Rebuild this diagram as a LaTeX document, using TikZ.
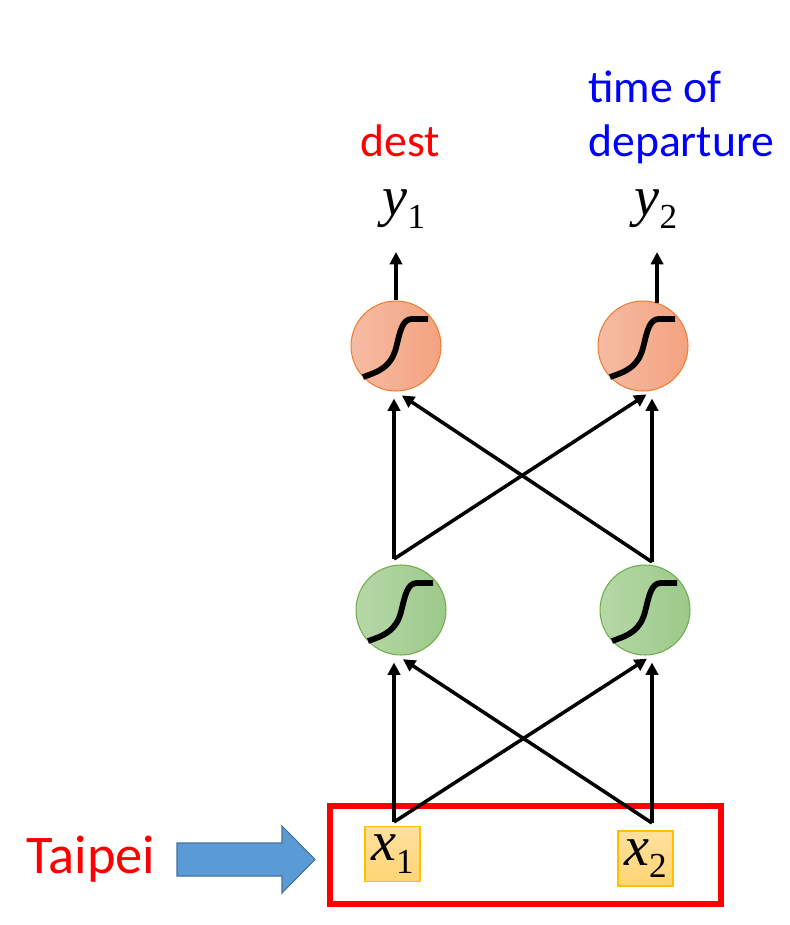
\documentclass[tikz,border=0pt]{standalone}
\usepackage{fontspec}
\newfontfamily\calfont{Carlito}
\newfontfamily\timesfont{Liberation Serif}
\usetikzlibrary{arrows.meta}

\definecolor{outedge}{HTML}{ED7D31}
\definecolor{outleft}{HTML}{F5BCA4}
\definecolor{outright}{HTML}{F4A27F}
\definecolor{hidedge}{HTML}{70AD47}
\definecolor{hidleft}{HTML}{B6D8A8}
\definecolor{hidright}{HTML}{9CC98A}
\definecolor{boxedge}{HTML}{FFC000}
\definecolor{boxtop}{HTML}{FFE09E}
\definecolor{boxbottom}{HTML}{FFD574}
\definecolor{arrowfill}{HTML}{5B9BD5}
\definecolor{arrowedge}{HTML}{41719C}

\newcommand{\varsub}[2]{{\itshape #1}\raisebox{-7pt}{\fontsize{20}{24}\selectfont #2}}

\tikzset{
    sigmoid/.pic={
        \draw[line width=3.3pt] (-33,31)
            .. controls (-15,25) and (-5,20) .. (0,2)
            .. controls (4,-14) and (6,-27) .. (16,-27)
            -- (32,-27);
    }
}

\begin{document}
\begin{tikzpicture}[x=0.02cm,y=-0.02cm,
        neuron/.style={circle,minimum size=1.8cm,inner sep=0pt,line width=0.6pt},
        outnode/.style={neuron,draw=outedge,left color=outleft,right color=outright},
        hidnode/.style={neuron,draw=hidedge,left color=hidleft,right color=hidright},
        inbox/.style={draw=boxedge,line width=0.6pt,top color=boxtop,bottom color=boxbottom,
            minimum size=1.1cm,inner sep=0pt},
        conn/.style={line width=2pt,shorten >=4pt,-{Triangle[length=7pt,width=7pt]}},
        mathlbl/.style={font=\timesfont\fontsize{32}{36}\selectfont},
        word/.style={font=\calfont\fontsize{26}{31.3}\selectfont,inner sep=0pt}
    ]
    \useasboundingbox (0,0) rectangle (789,925);

    \node[outnode] (o1) at (396,346) {};
    \node[outnode] (o2) at (643,346) {};
    \node[hidnode] (h1) at (401,610) {};
    \node[hidnode] (h2) at (645,610) {};
    \pic at (o1) {sigmoid};
    \pic at (o2) {sigmoid};
    \pic at (h1) {sigmoid};
    \pic at (h2) {sigmoid};

    \node[draw=red,line width=3.4pt,minimum width=7.82cm,minimum height=1.96cm] (input) at (525.5,855) {};
    \node[inbox,mathlbl] (x1) at (392.5,854) {\varsub{x}{1}};
    \node[inbox,mathlbl] (x2) at (645.5,858.5) {\varsub{x}{2}};

    \node[mathlbl,anchor=base] (y1) at (404,216) {\varsub{y}{1}};
    \node[mathlbl,anchor=base] (y2) at (656,216) {\varsub{y}{2}};
    \node[word,text=red,anchor=base] (dest) at (400,157) {dest};
    \node[word,text=blue,anchor=base west,align=left] (tod) at (588,157) {time of\\departure};

    \coordinate (in1) at (394,822);
    \coordinate (in2) at (652,823);
    \coordinate (j1) at (394,559);
    \coordinate (j2) at (652,562);

    \draw[conn] (in1) -- (in1 |- h1.south);
    \draw[conn] (in2) -- (h1.-95);
    \draw[conn] (in1) -- (h2.-80);
    \draw[conn] (in2) -- (in2 |- h2.south);

    \draw[conn] (j1) -- (j1 |- o1.south);
    \draw[conn] (j2) -- (o1.-90);
    \draw[conn] (j1) -- (o2.-78);
    \draw[conn] (j2) -- (j2 |- o2.south);

    \draw[conn,shorten >=10pt] (o1.north) -- (o1.north |- y1.south);
    \draw[conn,shorten >=10pt] (o2.72) -- (o2.72 |- y2.south);

    \node[word,text=red,anchor=base west,font=\calfont\fontsize{31}{37}\selectfont] (taipei) at (26,873) {Taipei};
    \draw[fill=arrowfill,draw=arrowedge,line width=0.6pt] (177,843) -- (282,843) -- (282,826)
        -- (315,859.5) -- (282,893) -- (282,876) -- (177,876) -- cycle;
\end{tikzpicture}
\end{document}
